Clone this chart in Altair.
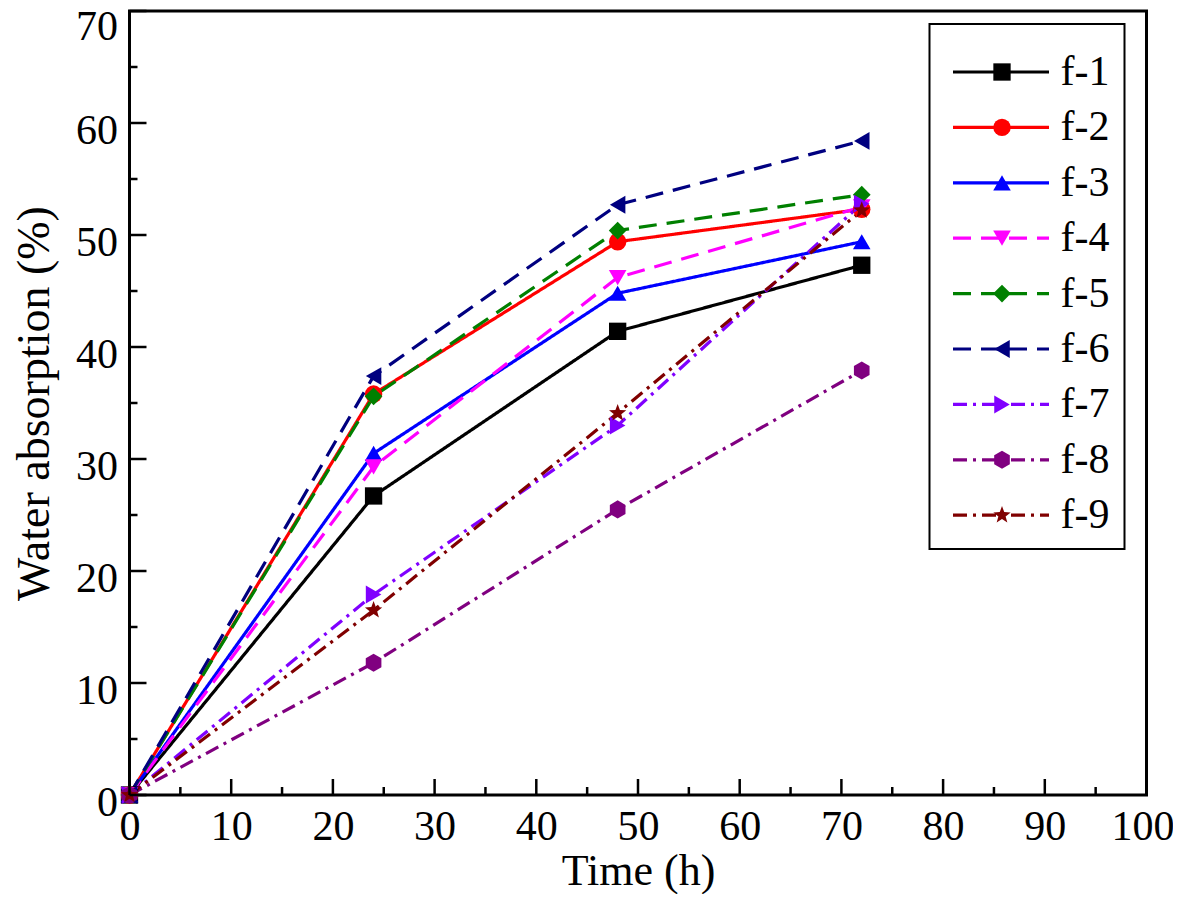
import math
import altair as alt
import pandas as pd

# ---------------- data ----------------
series = ["f-1", "f-2", "f-3", "f-4", "f-5", "f-6", "f-7", "f-8", "f-9"]
times = [0, 24, 48, 72]
f1 = [0, 26.7, 41.4, 47.3]
f2 = [0, 35.8, 49.4, 52.3]
f3 = [0, 30.5, 44.8, 49.4]
f4 = [0, 29.3, 46.2, 52.5]
f5 = [0, 35.6, 50.4, 53.6]
f6 = [0, 37.4, 52.7, 58.4]
f7 = [0, 17.9, 33.0, 52.8]
f8 = [0, 11.8, 25.5, 37.9]
f9 = [0, 16.5, 34.1, 52.2]
values = [f1, f2, f3, f4, f5, f6, f7, f8, f9]

x_major = list(range(0, 101, 10))
x_minor = list(range(5, 100, 10))
y_major = list(range(0, 71, 10))
y_minor = list(range(5, 70, 10))

# ---------------- styles ----------------
colors = ["#000000", "#FF0000", "#0000FF", "#FF00FF", "#008000",
          "#000080", "#8000FF", "#800080", "#800000"]
dashes = [[1, 0], [1, 0], [1, 0], [18, 10], [18, 10], [18, 10],
          [14, 6, 3, 6], [14, 6, 3, 6], [14, 6, 3, 6]]

HEX = "M0,-1L0.866,-0.5L0.866,0.5L0,1L-0.866,0.5L-0.866,-0.5Z"
pts = []
for k in range(10):
    r = 1.0 if k % 2 == 0 else 0.42
    a = -math.pi / 2 + k * math.pi / 5
    pts.append(f"{r*math.cos(a):.3f},{r*math.sin(a):.3f}")
STAR = "M" + "L".join(pts) + "Z"

shapes = ["square", "circle", "triangle-up", "triangle-down", "diamond",
          "triangle-left", "triangle-right", HEX, STAR]
sizes = [300, 330, 480, 480, 420, 480, 480, 480, 650]

FONT = "Liberation Serif"
W, H = 1017, 784

rows = []
for s, vals in zip(series, values):
    for t, v in zip(times, vals):
        rows.append({"series": s, "time": t, "value": v})
df = pd.DataFrame(rows)

color_scale = alt.Scale(domain=series, range=colors)
dash_scale = alt.Scale(domain=series, range=dashes)
shape_scale = alt.Scale(domain=series, range=shapes)
size_scale = alt.Scale(domain=series, range=sizes)
xs = alt.Scale(domain=[0, 100], nice=False, zero=False)
ys = alt.Scale(domain=[0, 70], nice=False, zero=False)

xaxis = alt.Axis(values=x_major, labelFont=FONT, labelFontSize=42, labelPadding=11,
                 labelOffset={"condition": {"test": "datum.value == 100", "value": -4}, "value": 0},
                 labelColor="black", labelFlush=False, labelOverlap=False,
                 ticks=False, tickSize=0, domain=False, grid=False,
                 title="Time (h)", titleFont=FONT, titleFontSize=44,
                 titleFontWeight="normal", titleColor="black",
                 titleY=89, titleBaseline="alphabetic")
yaxis = alt.Axis(values=y_major, labelFont=FONT, labelFontSize=42, labelPadding=12,
                 labelOffset={"condition": {"test": "datum.value == 70", "value": 15}, "value": 7},
                 labelColor="black", labelFlush=False, labelOverlap=False,
                 ticks=False, tickSize=0, domain=False, grid=False,
                 title="Water absorption (%)", titleFont=FONT, titleFontSize=46,
                 titleFontWeight="normal", titleColor="black",
                 titleX=-95, titleY=H / 2, titleAngle=-90, titleAlign="center",
                 titleBaseline="middle")

X = alt.X("time:Q", scale=xs, axis=xaxis)
Y = alt.Y("value:Q", scale=ys, axis=yaxis)

lines = alt.Chart(df).mark_line(strokeWidth=3.2).encode(
    x=X, y=Y,
    color=alt.Color("series:N", scale=color_scale, legend=None),
    strokeDash=alt.StrokeDash("series:N", scale=dash_scale, legend=None),
    detail="series:N",
)
points = alt.Chart(df).mark_point(filled=True, opacity=1).encode(
    x=X, y=Y,
    color=alt.Color("series:N", scale=color_scale, legend=None),
    shape=alt.Shape("series:N", scale=shape_scale, legend=None),
    size=alt.Size("series:N", scale=size_scale, legend=None),
)

# inward ticks
def yticks(vals, length):
    return alt.Chart(pd.DataFrame({"value": vals})).mark_rule(
        color="black", strokeWidth=2.5).encode(
        y=alt.Y("value:Q", scale=ys, axis=yaxis), x=alt.value(0), x2=alt.value(length))

def xticks(vals, length):
    return alt.Chart(pd.DataFrame({"time": vals})).mark_rule(
        color="black", strokeWidth=2.5).encode(
        x=alt.X("time:Q", scale=xs, axis=xaxis), y=alt.value(H), y2=alt.value(H - length))

ticks = [yticks(y_major, 17), yticks(y_minor, 8), xticks(x_major, 16), xticks(x_minor, 8)]

# legend (manual)
LX0, LX1 = 800, 995
LY0, LY1 = 13, 538
leg_rows = []
for i, s in enumerate(series):
    ly = 61 + i * 55.4
    leg_rows.append({"series": s, "a": 823.5, "b": 919.5, "m": 872.5, "t": 931, "ly": ly})
leg = pd.DataFrame(leg_rows)

leg_box = alt.Chart(pd.DataFrame({"k": [0]})).mark_rect(
    fill="white", stroke="black", strokeWidth=2).encode(
    x=alt.value(LX0), x2=alt.value(LX1), y=alt.value(LY0), y2=alt.value(LY1))
leg_lines = alt.Chart(leg).mark_rule(strokeWidth=3.2).encode(
    x=alt.X("a:Q", scale=None, axis=None), x2="b:Q",
    y=alt.Y("ly:Q", scale=None, axis=None),
    color=alt.Color("series:N", scale=color_scale, legend=None),
    strokeDash=alt.StrokeDash("series:N", scale=dash_scale, legend=None),
)
leg_pts = alt.Chart(leg).mark_point(filled=True, opacity=1).encode(
    x=alt.X("m:Q", scale=None, axis=None),
    y=alt.Y("ly:Q", scale=None, axis=None),
    color=alt.Color("series:N", scale=color_scale, legend=None),
    shape=alt.Shape("series:N", scale=shape_scale, legend=None),
    size=alt.Size("series:N", scale=size_scale, legend=None),
)
leg_text = alt.Chart(leg).mark_text(
    align="left", baseline="middle", font=FONT, fontSize=42, color="black").encode(
    x=alt.X("t:Q", scale=None, axis=None),
    y=alt.Y("ly:Q", scale=None, axis=None),
    text="series:N",
)

chart = alt.layer(
    lines, points, *ticks, leg_box, leg_lines, leg_pts, leg_text
).properties(
    width=W, height=H,
    autosize=alt.AutoSizeParams(type="none"),
    padding={"left": 121.5, "top": 3, "right": 26.5, "bottom": 99},
    background="white",
).configure_view(stroke="black", strokeWidth=3)

chart.save("out.html", embed_options={"renderer": "svg", "actions": False})
